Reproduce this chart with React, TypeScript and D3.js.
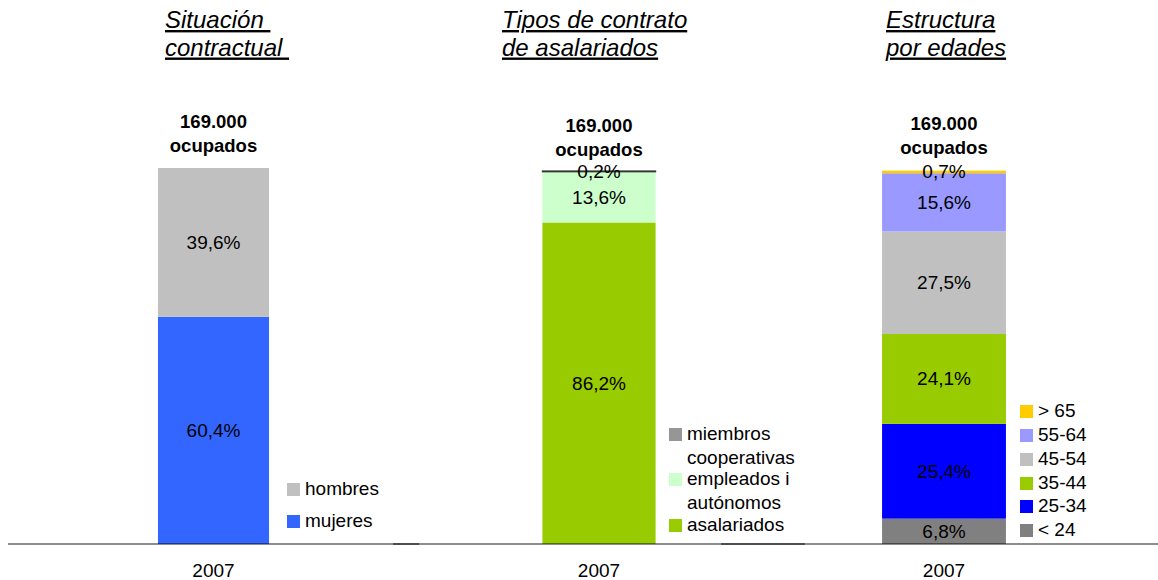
import React from "react";
import * as d3 from "d3";

// ---------- data ----------
const YEARS = ["2007"];
const TOTAL_LABEL = ["169.000", "ocupados"];

const SEX_KEYS = ["mujeres", "hombres"];
const SEX_VALUES = [60.4, 39.6];
const SEX_LEGEND = [["mujeres"], ["hombres"]];

const CONTRACT_KEYS = ["asalariados", "empleados i autónomos", "miembros cooperativas"];
const CONTRACT_VALUES = [86.2, 13.6, 0.2];
const CONTRACT_LEGEND = [["asalariados"], ["empleados i", "autónomos"], ["miembros", "cooperativas"]];

const AGE_KEYS = ["< 24", "25-34", "35-44", "45-54", "55-64", "> 65"];
const AGE_VALUES = [6.8, 25.4, 24.1, 27.5, 15.6, 0.7];
const AGE_LEGEND = [["< 24"], ["25-34"], ["35-44"], ["45-54"], ["55-64"], ["> 65"]];

const TITLES = [
  ["Situación ", "contractual "],
  ["Tipos de contrato", "de asalariados"],
  ["Estructura", "por edades"],
];

// ---------- styles / layout ----------
const SEX_COLORS = ["#3366FF", "#C0C0C0"];
const CONTRACT_COLORS = ["#99CC00", "#CCFFCC", "#969696"];
const CONTRACT_STROKES = [null, null, "#333333"];
const AGE_COLORS = ["#808080", "#0000FF", "#99CC00", "#C0C0C0", "#9999FF", "#FFCC00"];

const FONT = "'Liberation Sans', Arial, Helvetica, sans-serif";
const BASE_Y = 544;

const PANELS = [
  {
    keys: SEX_KEYS, values: SEX_VALUES, colors: SEX_COLORS, strokes: [null, null],
    legend: SEX_LEGEND, title: TITLES[0],
    axis: [8, 419], pad: 1.35, top: 168, totalY: 128, titleX: 165,
    legendX: 287, legendTops: [515, 483],
  },
  {
    keys: CONTRACT_KEYS, values: CONTRACT_VALUES, colors: CONTRACT_COLORS, strokes: CONTRACT_STROKES,
    legend: CONTRACT_LEGEND, title: TITLES[1],
    axis: [393, 805], pad: 1.32, top: 171, totalY: 132, titleX: 502,
    legendX: 669, legendTops: [519, 473, 428],
  },
  {
    keys: AGE_KEYS, values: AGE_VALUES, colors: AGE_COLORS, strokes: AGE_KEYS.map(() => null),
    legend: AGE_LEGEND, title: TITLES[2],
    axis: [721, 1167], pad: 1.3, top: 171, totalY: 130, titleX: 886,
    legendX: 1020, legendTops: [524, 500, 477, 453, 429, 405],
  },
];

const fmt = (v: number) => d3.format(".1f")(v).replace(".", ",") + "%";

function Panel({ p }: { p: any }) {
  const x = d3.scaleBand<string>().domain(YEARS).range(p.axis).paddingInner(0).paddingOuter(p.pad);
  const y = d3.scaleLinear().domain([0, 100]).range([BASE_Y, p.top]);
  const row: any = { year: YEARS[0] };
  p.keys.forEach((k: string, i: number) => (row[k] = p.values[i]));
  const series = d3.stack<any>().keys(p.keys)([row]);
  const bw = x.bandwidth();
  const cx = (x(YEARS[0]) as number) + bw / 2;

  return (
    <g>
      {/* title */}
      {p.title.map((t: string, i: number) => (
        <text
          key={"t" + i}
          x={p.titleX}
          y={28 + i * 27.5}
          fontSize={24}
          fontStyle="italic"
          textDecoration="underline"
          style={{ whiteSpace: "pre" }}
          fill="#000"
        >
          {t}
        </text>
      ))}
      {/* total label */}
      {TOTAL_LABEL.map((t, i) => (
        <text key={"tot" + i} x={cx} y={p.totalY + i * 24.4} fontSize={18.5} fontWeight="bold" textAnchor="middle" fill="#000">
          {t}
        </text>
      ))}
      {/* bars */}
      {series.map((s: any, i: number) =>
        s.map((d: any, j: number) => (
          <rect
            key={"r" + i + "-" + j}
            x={x(d.data.year)}
            width={bw}
            y={y(d[1])}
            height={Math.max(0, y(d[0]) - y(d[1]))}
            fill={p.colors[i]}
            stroke={p.strokes[i] || "none"}
            strokeWidth={p.strokes[i] ? 1.2 : 0}
          />
        ))
      )}
      {/* value labels */}
      {series.map((s: any, i: number) =>
        s.map((d: any, j: number) => (
          <text
            key={"l" + i + "-" + j}
            x={cx}
            y={(y(d[0]) + y(d[1])) / 2}
            fontSize={19}
            textAnchor="middle"
            dominantBaseline="central"
            fill="#000"
          >
            {fmt(d[1] - d[0])}
          </text>
        ))
      )}
      {/* axis */}
      <line x1={p.axis[0]} x2={p.axis[1]} y1={BASE_Y} y2={BASE_Y} stroke="#000" strokeOpacity={0.6} strokeWidth={1.6} />
      {YEARS.map((yr) => (
        <text key={yr} x={(x(yr) as number) + bw / 2} y={577} fontSize={19} textAnchor="middle" fill="#000">
          {yr}
        </text>
      ))}
      {/* legend */}
      {p.legend.map((lines: string[], i: number) => (
        <g key={"lg" + i}>
          <rect x={p.legendX} y={p.legendTops[i]} width={13} height={13} fill={p.colors[i]} />
          {lines.map((ln: string, k: number) => (
            <text
              key={k}
              x={p.legendX + 18}
              y={p.legendTops[i] + 5.5 + k * 24}
              fontSize={19}
              dominantBaseline="central"
              fill="#000"
            >
              {ln}
            </text>
          ))}
        </g>
      ))}
    </g>
  );
}

export default function App() {
  return (
    <svg
      width={1158}
      height={580}
      style={{ position: "absolute", left: 0, top: 0, background: "#fff", fontFamily: FONT }}
    >
      <rect width={1158} height={580} fill="#fff" />
      {PANELS.map((p, i) => (
        <Panel key={i} p={p} />
      ))}
    </svg>
  );
}
